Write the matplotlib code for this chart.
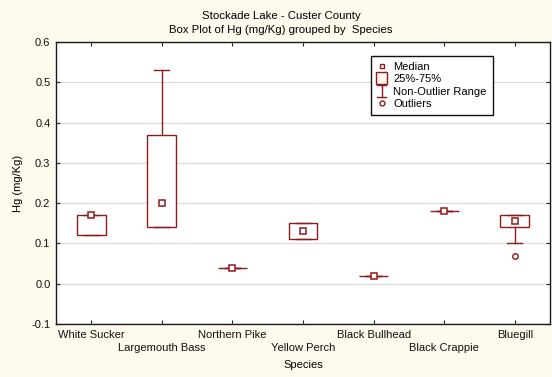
import matplotlib
matplotlib.use("Agg")
import matplotlib.pyplot as plt
from matplotlib.lines import Line2D
from matplotlib.patches import Rectangle
from matplotlib.legend_handler import HandlerBase

plt.rcParams['font.family'] = ['Liberation Sans', 'DejaVu Sans']

# Mercury summary statistics per species (mg/Kg)
species = ["White Sucker", "Largemouth Bass", "Northern Pike", "Yellow Perch",
           "Black Bullhead", "Black Crappie", "Bluegill"]
median = [0.17, 0.20, 0.038, 0.13, 0.02, 0.18, 0.155]
q1 = [0.12, 0.14, 0.038, 0.11, 0.02, 0.18, 0.14]
q3 = [0.17, 0.37, 0.038, 0.15, 0.02, 0.18, 0.17]
whisker_low = [0.12, 0.14, 0.038, 0.11, 0.02, 0.18, 0.10]
whisker_high = [0.17, 0.53, 0.038, 0.15, 0.02, 0.18, 0.17]
outliers = [[], [], [], [], [], [], [0.07]]

y_ticks = [-0.1, 0.0, 0.1, 0.2, 0.3, 0.4, 0.5, 0.6]

RED = '#8E1B1B'
CREAM = '#FFFAEE'

fig = plt.figure(figsize=(5.52, 3.77), dpi=100, facecolor=CREAM)
ax = fig.add_axes([0.1014, 0.1406, 0.8950, 0.7480])
ax.set_facecolor('white')

stats = []
for i, name in enumerate(species):
    stats.append(dict(label=name, med=median[i], q1=q1[i], q3=q3[i],
                      whislo=whisker_low[i], whishi=whisker_high[i],
                      fliers=outliers[i]))

positions = list(range(len(species)))
ax.bxp(stats, positions=positions, widths=0.41, capwidths=0.21,
       patch_artist=True, showfliers=True,
       boxprops=dict(facecolor='white', edgecolor=RED, linewidth=1.0),
       whiskerprops=dict(color=RED, linewidth=1.0),
       capprops=dict(color=RED, linewidth=1.0),
       medianprops=dict(linewidth=0),
       flierprops=dict(marker='o', markersize=4, markerfacecolor='white',
                       markeredgecolor=RED, markeredgewidth=1.0),
       zorder=3)

# median squares
ax.plot(positions, median, linestyle='none', marker='s', markersize=4,
        markerfacecolor='white', markeredgecolor=RED, markeredgewidth=1.1,
        zorder=5)

ax.set_xlim(-0.5, len(species) - 0.5)
ax.set_ylim(-0.1, 0.6)
ax.set_yticks(y_ticks)
ax.set_yticklabels([f"{v:.1f}" for v in y_ticks])
ax.set_xticks(positions)
ax.set_xticklabels(species)

ax.grid(axis='y', color='#DCDCDC', linewidth=1.0, zorder=0)
ax.set_axisbelow(True)

ax.tick_params(axis='both', direction='in', length=3, width=0.8, color='#222222',
               top=True, right=True, labelsize=8, labelcolor='#111111')
ax.tick_params(axis='x', pad=4)
ax.tick_params(axis='y', pad=4)
# stagger the category names on two rows
for i, t in enumerate(ax.xaxis.get_major_ticks()):
    if i % 2 == 1:
        t.set_pad(14)
for s in ax.spines.values():
    s.set_color('#1A1A1A')
    s.set_linewidth(1.0)

ax.set_xlabel("Species", fontsize=8, labelpad=5)
ax.set_ylabel("Hg (mg/Kg)", fontsize=8, labelpad=6)

fig.text(0.509, 0.958, "Stockade Lake - Custer County", ha='center', va='center', fontsize=8.2)
fig.text(0.509, 0.921, "Box Plot of Hg (mg/Kg) grouped by  Species", ha='center', va='center', fontsize=8.2)


class IBeamHandler(HandlerBase):
    def create_artists(self, legend, orig_handle, xdescent, ydescent,
                       width, height, fontsize, trans):
        cx = -xdescent + width * 0.35
        y0 = -ydescent - 1.5
        y1 = -ydescent + height + 1.0
        hw = 3.0
        arts = [Line2D([cx, cx], [y0, y1]),
                Line2D([cx - hw, cx + hw], [y0, y0]),
                Line2D([cx - hw, cx + hw], [y1, y1])]
        for a in arts:
            a.set_color(RED)
            a.set_linewidth(1.0)
            a.set_transform(trans)
        return arts


class BoxHandler(HandlerBase):
    def create_artists(self, legend, orig_handle, xdescent, ydescent,
                       width, height, fontsize, trans):
        cx = -xdescent + width * 0.35
        s = 8.5
        r = Rectangle((cx - s / 2, -ydescent + height / 2 - s / 2), s, s,
                      facecolor='#FFF8EC', edgecolor=RED, linewidth=1.0,
                      transform=trans)
        return [r]


class MarkerHandler(HandlerBase):
    def __init__(self, marker, size):
        super().__init__()
        self.marker = marker
        self.size = size

    def create_artists(self, legend, orig_handle, xdescent, ydescent,
                       width, height, fontsize, trans):
        cx = -xdescent + width * 0.35
        m = Line2D([cx], [-ydescent + height / 2], linestyle='none',
                   marker=self.marker, markersize=self.size,
                   markerfacecolor='white', markeredgecolor=RED,
                   markeredgewidth=1.0, transform=trans)
        return [m]


h_med, h_box, h_range, h_out = object(), object(), object(), object()
leg = ax.legend([h_med, h_box, h_range, h_out],
                ["Median", "25%-75%", "Non-Outlier Range", "Outliers"],
                handler_map={h_med: MarkerHandler('s', 3.5),
                             h_box: BoxHandler(),
                             h_range: IBeamHandler(),
                             h_out: MarkerHandler('o', 3.5)},
                loc='upper left', bbox_to_anchor=(0.638, 0.952),
                fontsize=8, frameon=True, fancybox=False, framealpha=1,
                edgecolor='#111111', borderpad=0.55, labelspacing=0.22,
                handlelength=1.1, handletextpad=0.35, borderaxespad=0)
leg.get_frame().set_linewidth(1.0)

fig.savefig("out.png", dpi=100, facecolor=CREAM)
